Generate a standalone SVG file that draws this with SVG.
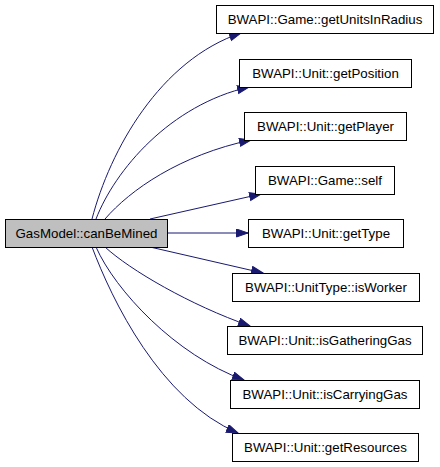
<svg xmlns="http://www.w3.org/2000/svg" width="440" height="467" viewBox="0 0 440 467">
<defs>
<style>
.node rect{fill:#ffffff;stroke:#000000;stroke-width:1}
#n0 rect{fill:#bfbfbf}
.node text{font-family:"Liberation Sans",Arial,sans-serif;font-size:13.3px;text-anchor:middle;fill:#000000}
.edges path{fill:none;stroke:#191970;stroke-width:1;marker-end:url(#arr)}
</style>
<marker id="arr" markerUnits="userSpaceOnUse" markerWidth="14" markerHeight="10" refX="12" refY="4.5" orient="auto">
<path d="M0.5,0.5 L12,4.5 L0.5,8.5 z" fill="#191970" stroke="#191970" stroke-width="1"/>
</marker>
</defs>
<rect width="440" height="467" fill="#ffffff"/>
<g class="edges">
<path d="M92,219 C110,150 160,60 241,33"/>
<path d="M96,219 C115,170 170,105 249,87"/>
<path d="M105,219 C130,190 180,155 251,140"/>
<path d="M150,219 L261,194"/>
<path d="M167,233 L248,233"/>
<path d="M150,247 L263,273"/>
<path d="M105,247 C130,270 190,305 250,326"/>
<path d="M96,247 C115,290 175,355 244,380"/>
<path d="M92,247 C112,300 160,400 238,433"/>
</g>
<g id="n0" class="node"><rect x="5.5" y="219.5" width="162" height="28"/><text x="86.5" y="238">GasModel::canBeMined</text></g>
<g id="n1" class="node"><rect x="216.5" y="5.5" width="217" height="28"/><text x="325" y="24">BWAPI::Game::getUnitsInRadius</text></g>
<g id="n2" class="node"><rect x="239.5" y="59.5" width="172" height="28"/><text x="325.5" y="78">BWAPI::Unit::getPosition</text></g>
<g id="n3" class="node"><rect x="244.5" y="112.5" width="162" height="28"/><text x="325.5" y="131">BWAPI::Unit::getPlayer</text></g>
<g id="n4" class="node"><rect x="255.5" y="166.5" width="139" height="28"/><text x="325" y="185">BWAPI::Game::self</text></g>
<g id="n5" class="node"><rect x="248.5" y="219.5" width="155" height="28"/><text x="326" y="238">BWAPI::Unit::getType</text></g>
<g id="n6" class="node"><rect x="232.5" y="273.5" width="187" height="28"/><text x="326" y="292">BWAPI::UnitType::isWorker</text></g>
<g id="n7" class="node"><rect x="227.5" y="326.5" width="195" height="28"/><text x="325" y="345">BWAPI::Unit::isGatheringGas</text></g>
<g id="n8" class="node"><rect x="230.5" y="380.5" width="189" height="28"/><text x="325" y="399">BWAPI::Unit::isCarryingGas</text></g>
<g id="n9" class="node"><rect x="232.5" y="433.5" width="186" height="28"/><text x="325.5" y="452">BWAPI::Unit::getResources</text></g>
</svg>
